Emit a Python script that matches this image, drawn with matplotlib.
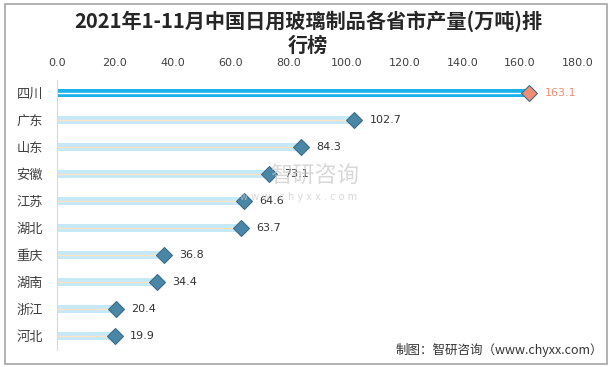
import matplotlib
matplotlib.use("Agg")
import matplotlib.pyplot as plt
from matplotlib.patches import Rectangle

plt.rcParams["font.family"] = ["Noto Sans CJK SC", "DejaVu Sans"]

provinces = ["四川", "广东", "山东", "安徽", "江苏", "湖北", "重庆", "湖南", "浙江", "河北"]
output = [163.1, 102.7, 84.3, 73.1, 64.6, 63.7, 36.8, 34.4, 20.4, 19.9]
xticks = [0, 20, 40, 60, 80, 100, 120, 140, 160, 180]
title = "2021年1-11月中国日用玻璃制品各省市产量(万吨)排\n行榜"
source = "制图：智研咨询（www.chyxx.com）"

W, H = 616, 367
fig = plt.figure(figsize=(W / 100, H / 100), dpi=100)
ax = fig.add_axes([57 / W, 1 - 349.5 / H, 521 / W, 270 / H])

for i, (name, val) in enumerate(zip(provinces, output)):
    top = i == 0
    band = "#1bb1ea" if top else "#c6e9f8"
    mid = "#ffffff" if top else "#fbe3c4"
    mcol = "#ef8d72" if top else "#4a86a6"
    ecol = "#3d6f8a"
    ax.barh(i, val, height=0.27, color=band, zorder=1)
    ax.plot([0, val], [i, i], color=mid, lw=1.0, zorder=2)
    ax.plot(val, i, marker="D", ms=8.5, color=mcol, mec=ecol, mew=0.8, zorder=3)
    ax.annotate(f"{val:.1f}", (val, i), xytext=(11, 0), textcoords="offset points",
                ha="left", va="center", fontsize=8,
                color="#ef8d72" if top else "#333333",
                fontfamily=["DejaVu Sans"])

ax.set_xlim(0, 180)
ax.set_ylim(9.5, -0.5)
ax.set_yticks(range(len(provinces)))
ax.set_yticklabels(provinces, fontsize=9.5, color="#404040")
ax.set_xticks(xticks)
ax.set_xticklabels([f"{t:.1f}" for t in xticks], fontsize=8, color="#404040",
                   fontfamily=["DejaVu Sans"])
ax.xaxis.tick_top()
ax.tick_params(axis="both", length=0)
ax.tick_params(axis="x", pad=8)
ax.tick_params(axis="y", pad=10)
for s in ["top", "right", "bottom"]:
    ax.spines[s].set_visible(False)
ax.spines["left"].set_color("#d9d9d9")

fig.text(0.5, 1 - 33 / H, title, ha="center", va="center", fontsize=14.5,
         fontweight="bold", color="#262626", linespacing=1.2)

# watermark
fig.text(270 / W, 1 - 176 / H, "智研咨询", ha="left", va="center", fontsize=16,
         color="#c8c8c8", alpha=0.7, zorder=0)
fig.text(240 / W, 1 - 197 / H, "w w w . c h y x x . c o m", ha="left", va="center",
         fontsize=7, color="#c8c8c8", alpha=0.7, fontfamily=["DejaVu Sans"])

fig.text(603 / W, 1 - 350 / H, source, ha="right", va="center", fontsize=9,
         color="#333333")

fig.patches.append(Rectangle((5 / W, 1 - 364 / H), 602 / W, 360 / H,
                             transform=fig.transFigure, fill=False,
                             edgecolor="#a6a6a6", lw=1.2))

fig.savefig("out.png", dpi=100)
